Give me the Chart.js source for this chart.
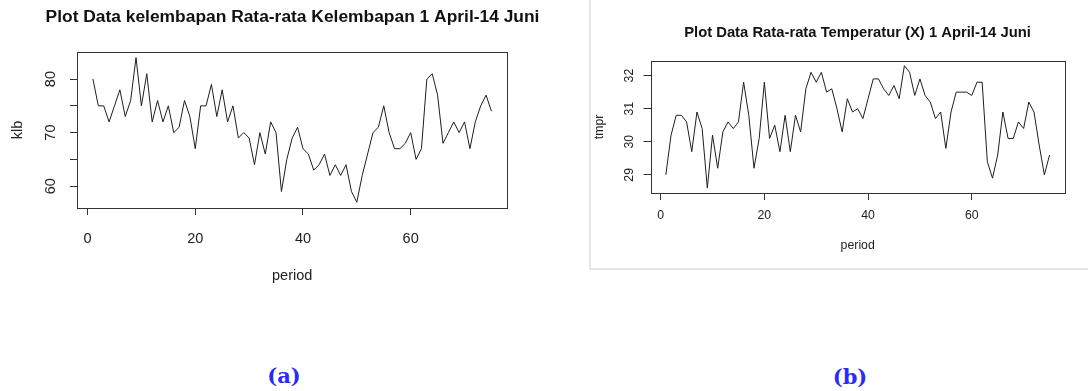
<!DOCTYPE html>
<html>
<head>
<meta charset="utf-8">
<script src="https://cdn.jsdelivr.net/npm/chart.js@4.4.1/dist/chart.umd.min.js"></script>
<style>
  html, body { margin: 0; padding: 0; background: #fff; width: 1088px; height: 391px; overflow: hidden; }
  #wrapA { position: absolute; left: 0; top: 0; width: 585px; height: 300px; }
  #wrapB { position: absolute; left: 590px; top: 0; width: 535px; height: 265px; }
  #panelB { position: absolute; left: 589px; top: 0; width: 499px; height: 270px; box-sizing: border-box;
            border-left: 2px solid #e6e6e6; border-bottom: 2px solid #e6e6e6; }
  .cap { position: absolute; font-family: "DejaVu Serif", serif; font-weight: bold; font-size: 21px;
         color: #2b2bf5; transform: translate(-50%, -50%); white-space: nowrap; }
</style>
</head>
<body>
<div id="panelB"></div>
<div id="wrapA"><canvas id="chartA" width="585" height="300"></canvas></div>
<div id="wrapB"><canvas id="chartB" width="535" height="265"></canvas></div>
<div class="cap" style="left:284px; top:375px;">(a)</div>
<div class="cap" style="left:850px; top:376px;">(b)</div>
<script>
// ---- data ----
const humidity = [80,75,75,72,75,78,73,76,84,75,81,72,76,72,75,70,71,76,73,67,
                  75,75,79,73,78,72,75,69,70,69,64,70,66,72,70,59,65,69,71,67,
                  66,63,64,66,62,64,62,64,59,57,62,66,70,71,75,70,67,67,68,70,
                  65,67,80,81,77,68,70,72,70,72,67,72,75,77,74];
const temperature = [29.0,30.2,30.8,30.8,30.6,29.7,30.9,30.4,28.6,30.2,
                     29.2,30.3,30.6,30.4,30.6,31.8,30.8,29.2,30.1,31.8,
                     30.1,30.5,29.7,30.8,29.7,30.8,30.3,31.6,32.1,31.8,
                     32.1,31.5,31.6,31.0,30.3,31.3,30.9,31.0,30.7,31.3,
                     31.9,31.9,31.6,31.4,31.7,31.3,32.3,32.1,31.4,31.9,
                     31.4,31.2,30.7,30.9,29.8,30.9,31.5,31.5,31.5,31.4,
                     31.8,31.8,29.4,28.9,29.6,30.9,30.1,30.1,30.6,30.4,
                     31.2,30.9,29.9,29.0,29.6];
const xTicks = [0, 20, 40, 60];
const yTicksA = [60, 65, 70, 75, 80];
const yLabelsA = [60, 70, 80];
const yTicksB = [29, 30, 31, 32];
const titleA = "Plot Data kelembapan Rata-rata Kelembapan 1 April-14 Juni";
const titleB = "Plot Data Rata-rata Temperatur (X) 1 April-14 Juni";
const xTitle = "period";
const yTitleA = "klb";
const yTitleB = "tmpr";

// R-style 4% axis extension
function rRange(vals) {
  const mn = Math.min(...vals), mx = Math.max(...vals);
  const e = (mx - mn) * 0.04;
  return [mn - e, mx + e];
}

const boxPlugin = {
  id: 'rbox',
  afterDraw(chart) {
    const {ctx, chartArea: a} = chart;
    ctx.save();
    ctx.strokeStyle = '#333';
    ctx.lineWidth = 1;
    const l = Math.round(a.left) + 0.5, t = Math.round(a.top) + 0.5;
    const r = Math.round(a.right) + 0.5, b = Math.round(a.bottom) + 0.5;
    ctx.strokeRect(l, t, r - l, b - t);
    ctx.restore();
  }
};

function makeChart(id, vals, o) {
  const xr = rRange(vals.map((v, i) => i + 1));
  const yr = rRange(vals);
  const font = {family: '"Liberation Sans", Arial, sans-serif', size: o.fs};
  return new Chart(document.getElementById(id), {
    type: 'line',
    data: {
      datasets: [{
        data: vals.map((v, i) => ({x: i + 1, y: v})),
        borderColor: '#1e1e1e',
        borderWidth: 1,
        pointRadius: 0,
        tension: 0,
        fill: false,
        yAxisID: 'y'
      }]
    },
    options: {
      responsive: false,
      animation: false,
      devicePixelRatio: 1,
      layout: {padding: 0},
      plugins: {
        legend: {display: false},
        tooltip: {enabled: false},
        title: {
          display: true,
          text: o.title,
          color: '#111',
          font: {family: '"Liberation Sans", Arial, sans-serif', size: o.tfs, weight: 'bold', lineHeight: 1.2},
          padding: {top: o.tPadT, bottom: o.tPadB}
        }
      },
      scales: {
        x: {
          type: 'linear',
          min: xr[0], max: xr[1],
          afterBuildTicks: s => { s.ticks = xTicks.map(v => ({value: v})); },
          afterFit: s => { s.height = o.xH; },
          grid: {drawOnChartArea: false, drawTicks: true, tickLength: 7, tickColor: '#333', lineWidth: 1},
          border: {display: false},
          ticks: {color: '#222', font: font, padding: o.xTickPad, autoSkip: false, maxRotation: 0, minRotation: 0},
          title: {display: true, text: xTitle, color: '#222', font: {...font, lineHeight: 1.2},
                  padding: {top: 0, bottom: o.xTitlePad}}
        },
        y: {
          type: 'linear',
          position: 'left',
          min: yr[0], max: yr[1],
          afterBuildTicks: s => { s.ticks = o.yTicks.map(v => ({value: v})); },
          afterFit: s => { s.width = o.yW; },
          grid: {drawOnChartArea: false, drawTicks: true, tickLength: 7, tickColor: '#333', lineWidth: 1},
          border: {display: false},
          ticks: {
            color: '#222', font: font, padding: o.yTickPad, autoSkip: false,
            minRotation: 90, maxRotation: 90, crossAlign: 'center',
            callback: v => (o.yLabels.includes(v) ? String(v) : '')
          },
          title: {display: true, text: o.yTitle, color: '#222', font: {...font, lineHeight: 1.2},
                  padding: {top: o.yTitlePad, bottom: 0}}
        },
        yR: {
          type: 'linear',
          position: 'right',
          min: 0, max: 1,
          afterFit: s => { s.width = o.yRW; },
          grid: {display: false},
          border: {display: false},
          ticks: {display: false}
        }
      }
    },
    plugins: [boxPlugin]
  });
}

makeChart('chartA', humidity, {
  title: titleA, fs: 14.5, tfs: 17.4, tPadT: 7, tPadB: 24,
  xH: 92, xTickPad: 15, xTitlePad: 15,
  yW: 77, yRW: 77.6, yTickPad: 11, yTitlePad: 9.3,
  yTicks: yTicksA, yLabels: yLabelsA, yTitle: yTitleA
});

makeChart('chartB', temperature, {
  title: titleB, fs: 12.3, tfs: 14.8, tPadT: 24, tPadB: 19,
  xH: 72, xTickPad: 8.6, xTitlePad: 12,
  yW: 60.5, yRW: 60.1, yTickPad: 7, yTitlePad: 2.6,
  yTicks: yTicksB, yLabels: yTicksB, yTitle: yTitleB
});
</script>
</body>
</html>
